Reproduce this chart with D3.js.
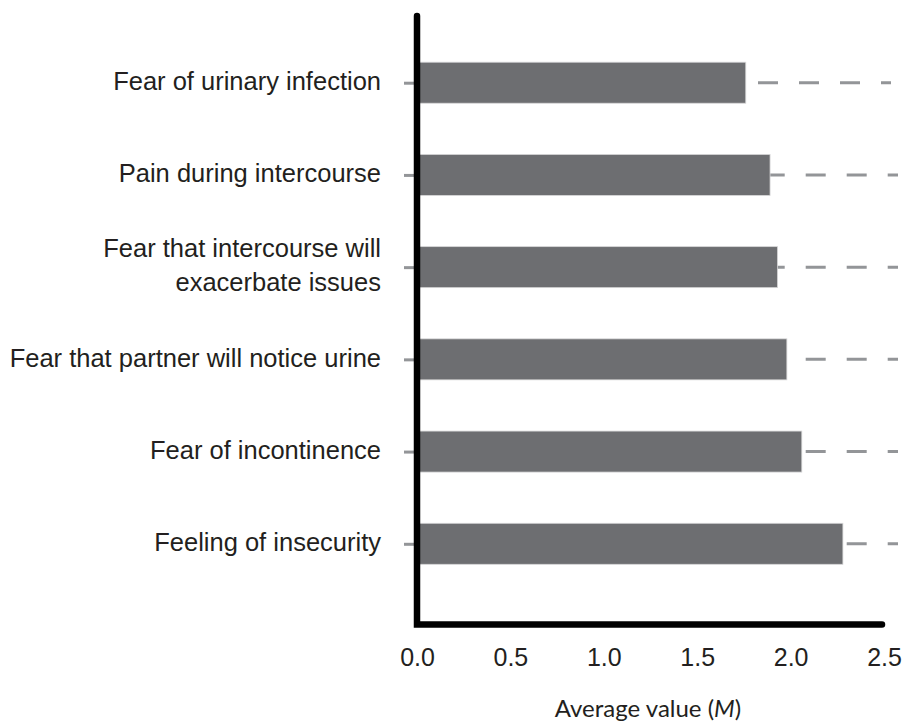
<!DOCTYPE html>
<html>
<head>
<meta charset="utf-8">
<script src="https://cdn.jsdelivr.net/npm/d3@7"></script>
<style>
  body { margin: 0; background: #fff; }
  svg { display: block; font-family: "Lato", "Open Sans", sans-serif; }
</style>
</head>
<body>
<div id="chart"></div>
<script>
// categories top to bottom, label lines split on "|"
const categories = [
    "Fear of urinary infection",
    "Pain during intercourse",
    "Fear that intercourse will|exacerbate issues",
    "Fear that partner will notice urine",
    "Fear of incontinence",
    "Feeling of insecurity"
];
const averages = [1.76, 1.89, 1.93, 1.98, 2.06, 2.28];
const xTicks = [0, 0.5, 1.0, 1.5, 2.0, 2.5];

const width = 917, height = 726;

const svg = d3.select("#chart").append("svg")
    .attr("width", width)
    .attr("height", height);

const x = d3.scaleLinear().domain([0, 2.5]).range([417, 884]);
const y = d3.scalePoint().domain(categories).range([36.6, 589.9]).padding(0.5);
const barH = 41;

const data = categories.map((c, i) => ({cat: c, value: averages[i]}));

// dashed guide lines behind the bars (the top one sits a little further left)
svg.append("g").selectAll("line")
    .data(data)
    .enter().append("line")
    .attr("x1", (d, i) => i === 0 ? 430 : 436.7)
    .attr("x2", (d, i) => i === 0 ? 891 : 898)
    .attr("y1", d => y(d.cat))
    .attr("y2", d => y(d.cat))
    .attr("stroke", "#939598")
    .attr("stroke-width", 3)
    .attr("stroke-dasharray", "20,21");

// bars
svg.append("g").selectAll("rect")
    .data(data)
    .enter().append("rect")
    .attr("x", x(0))
    .attr("y", d => y(d.cat) - barH / 2)
    .attr("width", d => x(d.value) - x(0))
    .attr("height", barH)
    .attr("fill", "#6d6e71")
    .attr("stroke", "#d6d6d7")
    .attr("stroke-width", 0.8);

// category axis
const yAxis = svg.append("g")
    .attr("transform", "translate(414,0)")
    .call(d3.axisLeft(y).tickSize(10).tickPadding(23));
yAxis.select(".domain").remove();
yAxis.selectAll(".tick line").attr("stroke", "#939598").attr("stroke-width", 3);
yAxis.selectAll(".tick text")
    .attr("fill", "#231f20")
    .style("font-size", "25.5px")
    .each(function (d) {
        const lines = d.split("|");
        const t = d3.select(this).text(null).attr("dy", null);
        const lh = 34;
        lines.forEach((l, i) => {
            t.append("tspan")
                .attr("x", -33)
                .attr("y", (i - (lines.length - 1) / 2) * lh - (lines.length > 1 ? 3 : 2))
                .attr("dy", "0.35em")
                .text(l);
        });
    });

// value axis labels
const xAxis = svg.append("g")
    .attr("transform", "translate(0,624.5)")
    .call(d3.axisBottom(x).tickValues(xTicks).tickFormat(d3.format(".1f")).tickSize(0).tickPadding(0));
xAxis.select(".domain").remove();
xAxis.selectAll(".tick text")
    .attr("fill", "#231f20")
    .attr("y", 41.5)
    .attr("dy", null)
    .style("font-size", "25px");

// thick black axis lines
svg.append("path")
    .attr("d", `M${x(0)},16 L${x(0)},624.5 L882,624.5`)
    .attr("fill", "none")
    .attr("stroke", "#000")
    .attr("stroke-width", 6.5)
    .attr("stroke-linecap", "round")
    .attr("stroke-linejoin", "miter");

// axis title
const title = svg.append("text")
    .attr("x", 648)
    .attr("y", 717)
    .attr("text-anchor", "middle")
    .attr("fill", "#231f20")
    .style("font-size", "24px");
title.append("tspan").text("Average value (");
title.append("tspan").style("font-style", "italic").text("M");
title.append("tspan").text(")");
</script>
</body>
</html>
